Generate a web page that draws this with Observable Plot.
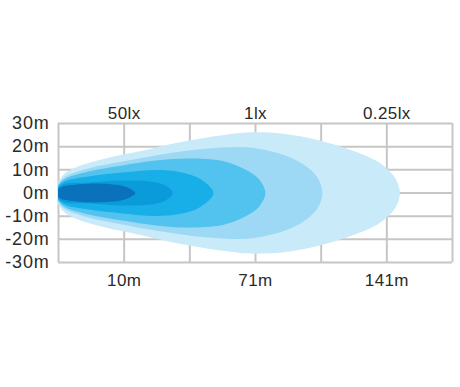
<!DOCTYPE html>
<html><head><meta charset="utf-8">
<script src="https://cdn.jsdelivr.net/npm/d3@7"></script>
<script src="https://cdn.jsdelivr.net/npm/@observablehq/plot@0.6"></script>
<style>
body{margin:0;background:#fff;}
g[aria-label="y-axis tick label"] text{letter-spacing:0.8px;}
g[aria-label="x-axis tick label"] text{letter-spacing:0.4px;}
</style>
</head><body><div id="chart"></div>
<script>
const yTicks = [30, 20, 10, 0, -10, -20, -30];
const yLabels = ["30m", "20m", "10m", "0m", "-10m", "-20m", "-30m"];
const xTicks = [1, 3, 5];
const distanceLabels = ["10m", "71m", "141m"];
const luxLabels = ["50lx", "1lx", "0.25lx"];
const gridColumns = [0, 1, 2, 3, 4, 5, 6];

// Upper half-width (m) of each isolux zone along the distance (grid columns), outer to inner
const zone1X = [-0.05, 0.061, 0.259, 0.716, 1.218, 1.736, 2.239, 2.741, 3.0, 3.426, 3.944, 4.447, 4.858, 5.10, 5.17, 5.20];
const zone1H = [0, 7.5, 11.0, 14.9, 17.9, 21.3, 23.9, 25.8, 26.2, 25.6, 22.9, 18.6, 13.6, 7.6, 3.9, 0];
const zone2X = [-0.05, 0.061, 0.457, 0.975, 1.477, 1.98, 2.50, 2.92, 3.43, 3.73, 3.94, 4.02];
const zone2H = [0, 6.2, 10.6, 13.6, 16.2, 18.3, 19.6, 19.6, 16.4, 12.3, 6.8, 0];
const zone3X = [-0.05, 0.061, 0.457, 0.975, 1.477, 1.98, 2.50, 2.85, 3.05, 3.15];
const zone3H = [0, 5.4, 9.3, 11.9, 14.0, 14.9, 13.8, 10.0, 6.0, 0];
const zone4X = [-0.05, 0.061, 0.457, 0.975, 1.477, 1.86, 2.16, 2.36];
const zone4H = [0, 4.5, 7.1, 8.8, 9.9, 9.0, 6.0, 0];
const zone5X = [-0.05, 0.061, 0.457, 0.975, 1.40, 1.63, 1.74];
const zone5H = [0, 3.7, 4.5, 5.4, 5.0, 3.2, 0];
const zone6X = [-0.04, 0.03, 0.18, 0.457, 0.79, 1.02, 1.17];
const zone6H = [0, 2.4, 3.3, 4.0, 3.8, 2.7, 0];

const zones = [[zone1X, zone1H], [zone2X, zone2H], [zone3X, zone3H], [zone4X, zone4H], [zone5X, zone5H], [zone6X, zone6H]];
const zoneColors = ["#c9eaf9", "#9dd9f4", "#52c3ee", "#18afe8", "#0a9bdb", "#0a72bb"];

function outline([X, H]) {
  const upper = X.map((x, i) => ({x, y: H[i]}));
  const lower = X.slice(1, -1).map((x, i) => ({x, y: -H[i + 1]})).reverse();
  return upper.concat(lower);
}

const gridStyle = {stroke: "#c6c6c6", strokeOpacity: 1, strokeWidth: 2};

const chart = Plot.plot({
  width: 460,
  height: 387,
  marginLeft: 58,
  marginRight: 8,
  marginTop: 123,
  marginBottom: 125,
  x: {domain: [0, 6], label: null},
  y: {domain: [-30, 30], label: null},
  style: {fontFamily: "'Liberation Sans', Arial, sans-serif", color: "#2a2a2a", background: "#fff"},
  marks: [
    Plot.gridX(gridColumns, gridStyle),
    Plot.gridY(yTicks, gridStyle),
    ...zones.map((z, i) => Plot.line(outline(z), {x: "x", y: "y", fill: zoneColors[i], stroke: "none", curve: "catmull-rom-closed", clip: true})),
    Plot.axisY(yTicks, {tickSize: 0, tickPadding: 9, fontSize: 18, tickFormat: d => yLabels[yTicks.indexOf(d)]}),
    Plot.axisX(xTicks, {anchor: "bottom", tickSize: 0, tickPadding: 11, fontSize: 17, tickFormat: d => distanceLabels[xTicks.indexOf(d)]}),
    Plot.axisX(xTicks, {anchor: "top", tickSize: 0, tickPadding: 5, fontSize: 17, tickFormat: d => luxLabels[xTicks.indexOf(d)]})
  ]
});
document.getElementById("chart").appendChild(chart);
</script>
</body></html>
